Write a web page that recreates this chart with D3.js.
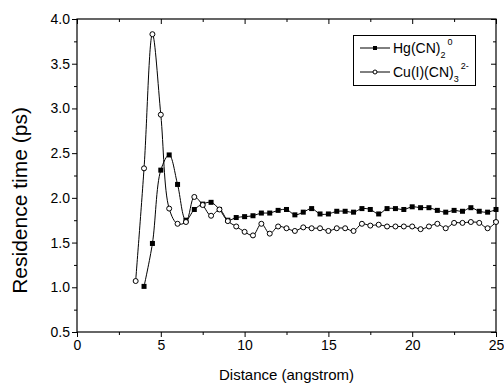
<!DOCTYPE html>
<html><head><meta charset="utf-8">
<script src="https://cdn.jsdelivr.net/npm/d3@7"></script>
<style>body{margin:0;background:#fff} text{font-family:Arial,"Liberation Sans",sans-serif;fill:#000}</style>
</head><body><svg id="c" width="504" height="386"></svg>
<script>
const hgDist = [4.0,4.5,5.0,5.5,6.0,6.5,7.0,7.5,8.0,8.5,9.0,9.5,10.0,10.5,11.0,11.5,12.0,12.5,13.0,13.5,14.0,14.5,15.0,15.5,16.0,16.5,17.0,17.5,18.0,18.5,19.0,19.5,20.0,20.5,21.0,21.5,22.0,22.5,23.0,23.5,24.0,24.5,25.0];
const hgTime = [1.01,1.49,2.31,2.48,2.15,1.75,1.87,1.93,1.95,1.87,1.75,1.78,1.79,1.80,1.83,1.83,1.86,1.87,1.81,1.84,1.88,1.82,1.82,1.85,1.85,1.84,1.88,1.87,1.82,1.88,1.88,1.87,1.90,1.89,1.89,1.86,1.84,1.86,1.85,1.89,1.85,1.84,1.87];
const cuDist = [3.5,4.0,4.5,5.0,5.5,6.0,6.5,7.0,7.5,8.0,8.5,9.0,9.5,10.0,10.5,11.0,11.5,12.0,12.5,13.0,13.5,14.0,14.5,15.0,15.5,16.0,16.5,17.0,17.5,18.0,18.5,19.0,19.5,20.0,20.5,21.0,21.5,22.0,22.5,23.0,23.5,24.0,24.5,25.0];
const cuTime = [1.07,2.33,3.83,2.93,1.88,1.71,1.73,2.01,1.92,1.80,1.87,1.74,1.68,1.62,1.58,1.71,1.60,1.68,1.66,1.63,1.67,1.66,1.66,1.63,1.66,1.66,1.63,1.71,1.69,1.70,1.68,1.68,1.68,1.68,1.65,1.68,1.71,1.66,1.72,1.72,1.73,1.72,1.66,1.73];
const xTicks = [0,5,10,15,20,25];
const xMinor = [2.5,7.5,12.5,17.5,22.5];
const yTicks = [0.5,1.0,1.5,2.0,2.5,3.0,3.5,4.0];
const yMinor = [0.75,1.25,1.75,2.25,2.75,3.25,3.75];

const svg = d3.select("#c");
const L=77, R=496, T=19, B=332;
const x = d3.scaleLinear().domain([0,25]).range([L,R]);
const y = d3.scaleLinear().domain([0.5,4.0]).range([B,T]);

function styleAxis(g){
  g.selectAll(".domain").remove();
  g.selectAll("line").attr("stroke","#000").attr("stroke-width",1);
  g.selectAll("text").style("font-size","14px").attr("fill","#000");
}
// bottom
svg.append("g").attr("transform",`translate(0,${B})`)
  .call(d3.axisBottom(x).tickValues(xTicks).tickSize(5).tickSizeOuter(0).tickPadding(3).tickFormat(d3.format("d"))).call(styleAxis);
svg.append("g").attr("transform",`translate(0,${B})`)
  .call(d3.axisBottom(x).tickValues(xMinor).tickSize(3).tickFormat("")).call(styleAxis);
// top
svg.append("g").attr("transform",`translate(0,${T})`)
  .call(d3.axisTop(x).tickValues(xTicks).tickSize(-5).tickFormat("")).call(styleAxis);
svg.append("g").attr("transform",`translate(0,${T})`)
  .call(d3.axisTop(x).tickValues(xMinor).tickSize(-3).tickFormat("")).call(styleAxis);
// left
svg.append("g").attr("transform",`translate(${L},0)`)
  .call(d3.axisLeft(y).tickValues(yTicks).tickSize(5).tickPadding(2).tickFormat(d3.format(".1f"))).call(styleAxis);
svg.append("g").attr("transform",`translate(${L},0)`)
  .call(d3.axisLeft(y).tickValues(yMinor).tickSize(3).tickFormat("")).call(styleAxis);
// right
svg.append("g").attr("transform",`translate(${R},0)`)
  .call(d3.axisRight(y).tickValues(yTicks).tickSize(-5).tickFormat("")).call(styleAxis);
svg.append("g").attr("transform",`translate(${R},0)`)
  .call(d3.axisRight(y).tickValues(yMinor).tickSize(-3).tickFormat("")).call(styleAxis);

// frame
svg.append("rect").attr("x",L).attr("y",T).attr("width",R-L).attr("height",B-T)
  .attr("fill","none").attr("stroke","#000").attr("stroke-width",1.2);

const hg = hgDist.map((d,i)=>[d,hgTime[i]]);
const cu = cuDist.map((d,i)=>[d,cuTime[i]]);
const line = d3.line().x(d=>x(d[0])).y(d=>y(d[1])).curve(d3.curveCatmullRom.alpha(0.5));

svg.append("path").attr("d",line(hg)).attr("fill","none").attr("stroke","#000").attr("stroke-width",1);
svg.append("path").attr("d",line(cu)).attr("fill","none").attr("stroke","#000").attr("stroke-width",1);

svg.append("g").selectAll("rect").data(hg).join("rect")
  .attr("x",d=>x(d[0])-2.5).attr("y",d=>y(d[1])-2.5).attr("width",5).attr("height",5).attr("fill","#000");
svg.append("g").selectAll("circle").data(cu).join("circle")
  .attr("cx",d=>x(d[0])).attr("cy",d=>y(d[1])).attr("r",2.5).attr("fill","#fff").attr("stroke","#000").attr("stroke-width",1);

// axis titles
svg.append("text").attr("x",(L+R)/2).attr("y",380).attr("text-anchor","middle").style("font-size","15px").text("Distance (angstrom)");
svg.append("text").attr("transform",`translate(27,${(T+B)/2+25}) rotate(-90)`).attr("text-anchor","middle").style("font-size","21px").text("Residence time (ps)");

// legend
const lg = svg.append("g");
lg.append("rect").attr("x",353.5).attr("y",35.5).attr("width",122).attr("height",50).attr("fill","#fff").attr("stroke","#000").attr("stroke-width",1);
const rows = [{label:"Hg(CN)",sub:"2",sup:"0",marker:"sq",yy:48},{label:"Cu(I)(CN)",sub:"3",sup:"2-",marker:"ci",yy:72}];
rows.forEach(r=>{
  lg.append("line").attr("x1",360).attr("x2",390).attr("y1",r.yy).attr("y2",r.yy).attr("stroke","#000");
  if(r.marker==="sq") lg.append("rect").attr("x",373).attr("y",r.yy-2).attr("width",4).attr("height",4).attr("fill","#000");
  else lg.append("circle").attr("cx",375).attr("cy",r.yy).attr("r",2).attr("fill","#fff").attr("stroke","#000");
  const t = lg.append("text").attr("x",393).attr("y",r.yy+5).style("font-size","14px");
  t.append("tspan").text(r.label);
  t.append("tspan").attr("dy",5).style("font-size","9px").text(r.sub);
  t.append("tspan").attr("dy",-13).attr("dx",2).style("font-size","9px").text(r.sup);
});
</script></body></html>
